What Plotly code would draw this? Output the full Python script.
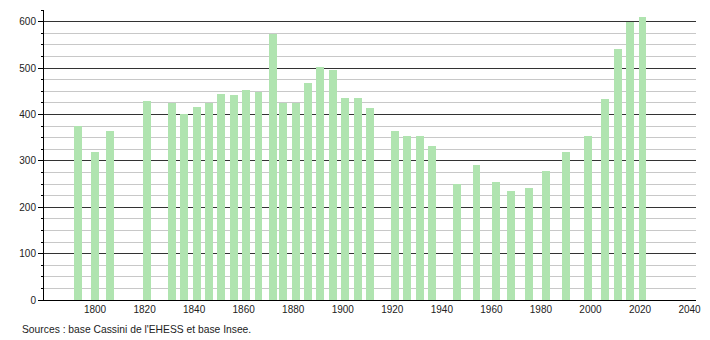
import plotly.graph_objects as go

years = [1793, 1800, 1806, 1821, 1831, 1836, 1841, 1846, 1851, 1856, 1861, 1866,
         1872, 1876, 1881, 1886, 1891, 1896, 1901, 1906, 1911, 1921, 1926, 1931,
         1936, 1946, 1954, 1962, 1968, 1975, 1982, 1990, 1999, 2006, 2011, 2016, 2021]
population = [376, 320, 365, 428, 425, 400, 416, 425, 443, 441, 452, 449,
              574, 424, 424, 467, 503, 495, 436, 436, 413, 364, 354, 353,
              331, 250, 292, 255, 236, 242, 277, 320, 354, 434, 540, 599, 609]
x_ticks = [1800, 1820, 1840, 1860, 1880, 1900, 1920, 1940, 1960, 1980, 2000, 2020, 2040]
y_ticks = [0, 100, 200, 300, 400, 500, 600]
source_text = "Sources : base Cassini de l'EHESS et base Insee."

fig = go.Figure()
fig.add_trace(go.Bar(
    x=years, y=population, width=[3.2] * len(years),
    marker=dict(color="#b0e4b0", line=dict(width=0)),
    hoverinfo="x+y",
))

font = dict(family="Liberation Sans, Arial, sans-serif", size=10, color="#222")

fig.update_layout(
    width=710, height=340,
    margin=dict(l=44, r=9, t=10, b=40),
    paper_bgcolor="white", plot_bgcolor="white",
    showlegend=False,
    font=font,
    bargap=0,
    xaxis=dict(
        range=[1779.4, 2042.6],
        tickvals=x_ticks, ticktext=[str(v) for v in x_ticks],
        showgrid=False, zeroline=False,
        showline=True, linecolor="#000", linewidth=1,
        ticks="", tickfont=font,
    ),
    yaxis=dict(
        range=[0, 625],
        tickvals=y_ticks,
        showgrid=True, gridcolor="#333", gridwidth=1,
        zeroline=False,
        showline=True, linecolor="#000", linewidth=1,
        ticks="outside", ticklen=5, tickcolor="#000",
        tickfont=font,
        minor=dict(dtick=25, tick0=0, showgrid=True, gridcolor="#c8c8c8",
                   gridwidth=1, ticks="outside", ticklen=2, tickcolor="#000"),
    ),
    annotations=[dict(
        text=source_text, xref="paper", yref="paper",
        x=-24/657, y=-29/290, xanchor="left", yanchor="middle",
        showarrow=False, font=dict(family=font["family"], size=10.3, color="#222"),
    )],
)

fig.write_html("out.html")
